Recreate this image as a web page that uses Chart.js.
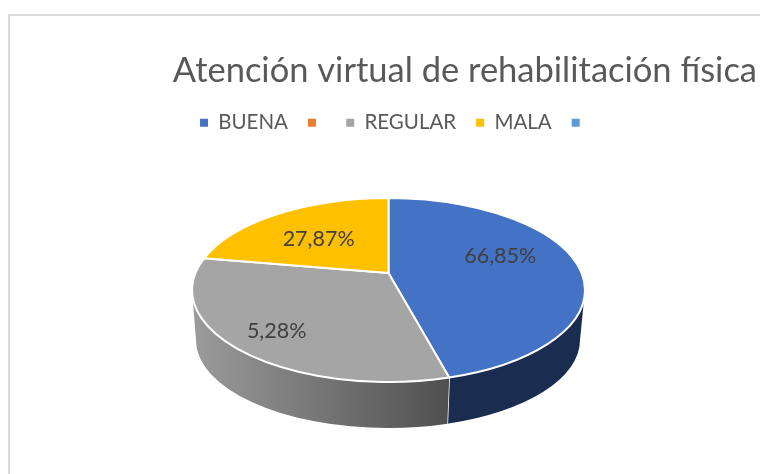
<!DOCTYPE html>
<html>
<head>
<meta charset="utf-8">
<script src="https://cdn.jsdelivr.net/npm/chart.js@4"></script>
<style>
  html, body { margin: 0; padding: 0; background: #fff; }
  #frame { position: absolute; left: 8px; top: 14px; width: 752px; height: 460px;
           border-left: 2px solid #dcdcdc; border-top: 2px solid #dcdcdc; box-sizing: border-box; }
  #wrap { position: absolute; left: 0; top: 0; width: 760px; height: 474px; }
</style>
</head>
<body>
<div id="frame"></div>
<div id="wrap"><canvas id="myChart" width="760" height="474"></canvas></div>
<script>
const categories = ["BUENA", "", "REGULAR", "MALA", ""];
const sliceValues = [45, 0, 35.6, 19.4, 0];
const labelTexts = ["66,85%", "", "5,28%", "27,87%", ""];
const sliceColors = ["#4472C4", "#ED7D31", "#A5A5A5", "#FFC000", "#5B9BD5"];

// pie is drawn tilted, so the flat arcs get mapped on these ellipses
const topFace = {x: 388.5, y: 290, rx: 196.5, ry: 92, apexY: 273};
const bottomFace = {x: 388, y: 340, rx: 192, ry: 88};
const labelNudge = [[5, -18], [0, 0], [-34, 14], [-8, -2], [0, 0]];

function wallFill(ctx, i) {
    if (i === 0) return "#1a2c50";
    const g = ctx.createLinearGradient(197, 0, 447, 0);
    g.addColorStop(0, "#9a9a9a");
    g.addColorStop(1, "#505050");
    return g;
}

const tiltedPie = {
    id: "tiltedPie",
    beforeDatasetDraw(chart, args) {
        const ctx = chart.ctx;
        const arcs = chart.getDatasetMeta(args.index).data;
        ctx.save();
        ctx.lineJoin = "round";

        // side wall, only the front half is visible
        arcs.forEach((arc, i) => {
            const a0 = Math.max(arc.startAngle, 0);
            const a1 = Math.min(arc.endAngle, Math.PI);
            if (sliceValues[i] === 0 || a1 <= a0) return;
            ctx.beginPath();
            ctx.ellipse(topFace.x, topFace.y, topFace.rx, topFace.ry, 0, a0, a1);
            ctx.ellipse(bottomFace.x, bottomFace.y, bottomFace.rx, bottomFace.ry, 0, a1, a0, true);
            ctx.closePath();
            ctx.fillStyle = wallFill(ctx, i);
            ctx.fill();
            if (arc.endAngle < Math.PI) {
                ctx.beginPath();
                ctx.moveTo(topFace.x + topFace.rx * Math.cos(a1), topFace.y + topFace.ry * Math.sin(a1));
                ctx.lineTo(bottomFace.x + bottomFace.rx * Math.cos(a1), bottomFace.y + bottomFace.ry * Math.sin(a1));
                ctx.strokeStyle = "#fff";
                ctx.lineWidth = 1.5;
                ctx.stroke();
            }
        });

        // top face
        arcs.forEach((arc, i) => {
            if (sliceValues[i] === 0) return;
            ctx.beginPath();
            ctx.moveTo(topFace.x, topFace.apexY);
            ctx.ellipse(topFace.x, topFace.y, topFace.rx, topFace.ry, 0, arc.startAngle, arc.endAngle);
            ctx.closePath();
            ctx.fillStyle = sliceColors[i];
            ctx.fill();
            ctx.strokeStyle = "#fff";
            ctx.lineWidth = 2;
            ctx.stroke();
        });

        // value labels
        ctx.font = "21.5px Lato";
        ctx.fillStyle = "#404040";
        ctx.textAlign = "center";
        ctx.textBaseline = "middle";
        arcs.forEach((arc, i) => {
            if (!labelTexts[i]) return;
            const mid = (arc.startAngle + arc.endAngle) / 2;
            const rimX = topFace.x + topFace.rx * Math.cos(mid);
            const rimY = topFace.y + topFace.ry * Math.sin(mid);
            const lx = topFace.x + 0.55 * (rimX - topFace.x) + labelNudge[i][0];
            const ly = topFace.apexY + 0.55 * (rimY - topFace.apexY) + labelNudge[i][1];
            ctx.fillText(labelTexts[i], lx, ly);
        });
        ctx.restore();
        return false;
    }
};

new Chart("myChart", {
    type: "pie",
    data: {
        labels: categories,
        datasets: [{
            data: sliceValues,
            backgroundColor: sliceColors
        }]
    },
    plugins: [tiltedPie],
    options: {
        responsive: false,
        animation: false,
        layout: {padding: {left: 33, right: 3, top: 0, bottom: 0}},
        plugins: {
            tooltip: {enabled: false},
            title: {
                display: true,
                text: "Atención virtual de rehabilitación física",
                align: "end",
                color: "#595959",
                font: {family: "Lato", size: 34.5, weight: "400"},
                padding: {top: 50, bottom: 1}
            },
            legend: {
                display: true,
                position: "top",
                labels: {
                    boxWidth: 8,
                    boxHeight: 8,
                    padding: 20,
                    color: "#595959",
                    font: {family: "Lato", size: 20.5},
                    generateLabels() {
                        return categories.map((c, i) => ({
                            text: c,
                            fillStyle: sliceColors[i],
                            strokeStyle: sliceColors[i],
                            fontColor: "#595959",
                            lineWidth: 0,
                            index: i
                        }));
                    }
                }
            }
        }
    }
});
</script>
</body>
</html>
